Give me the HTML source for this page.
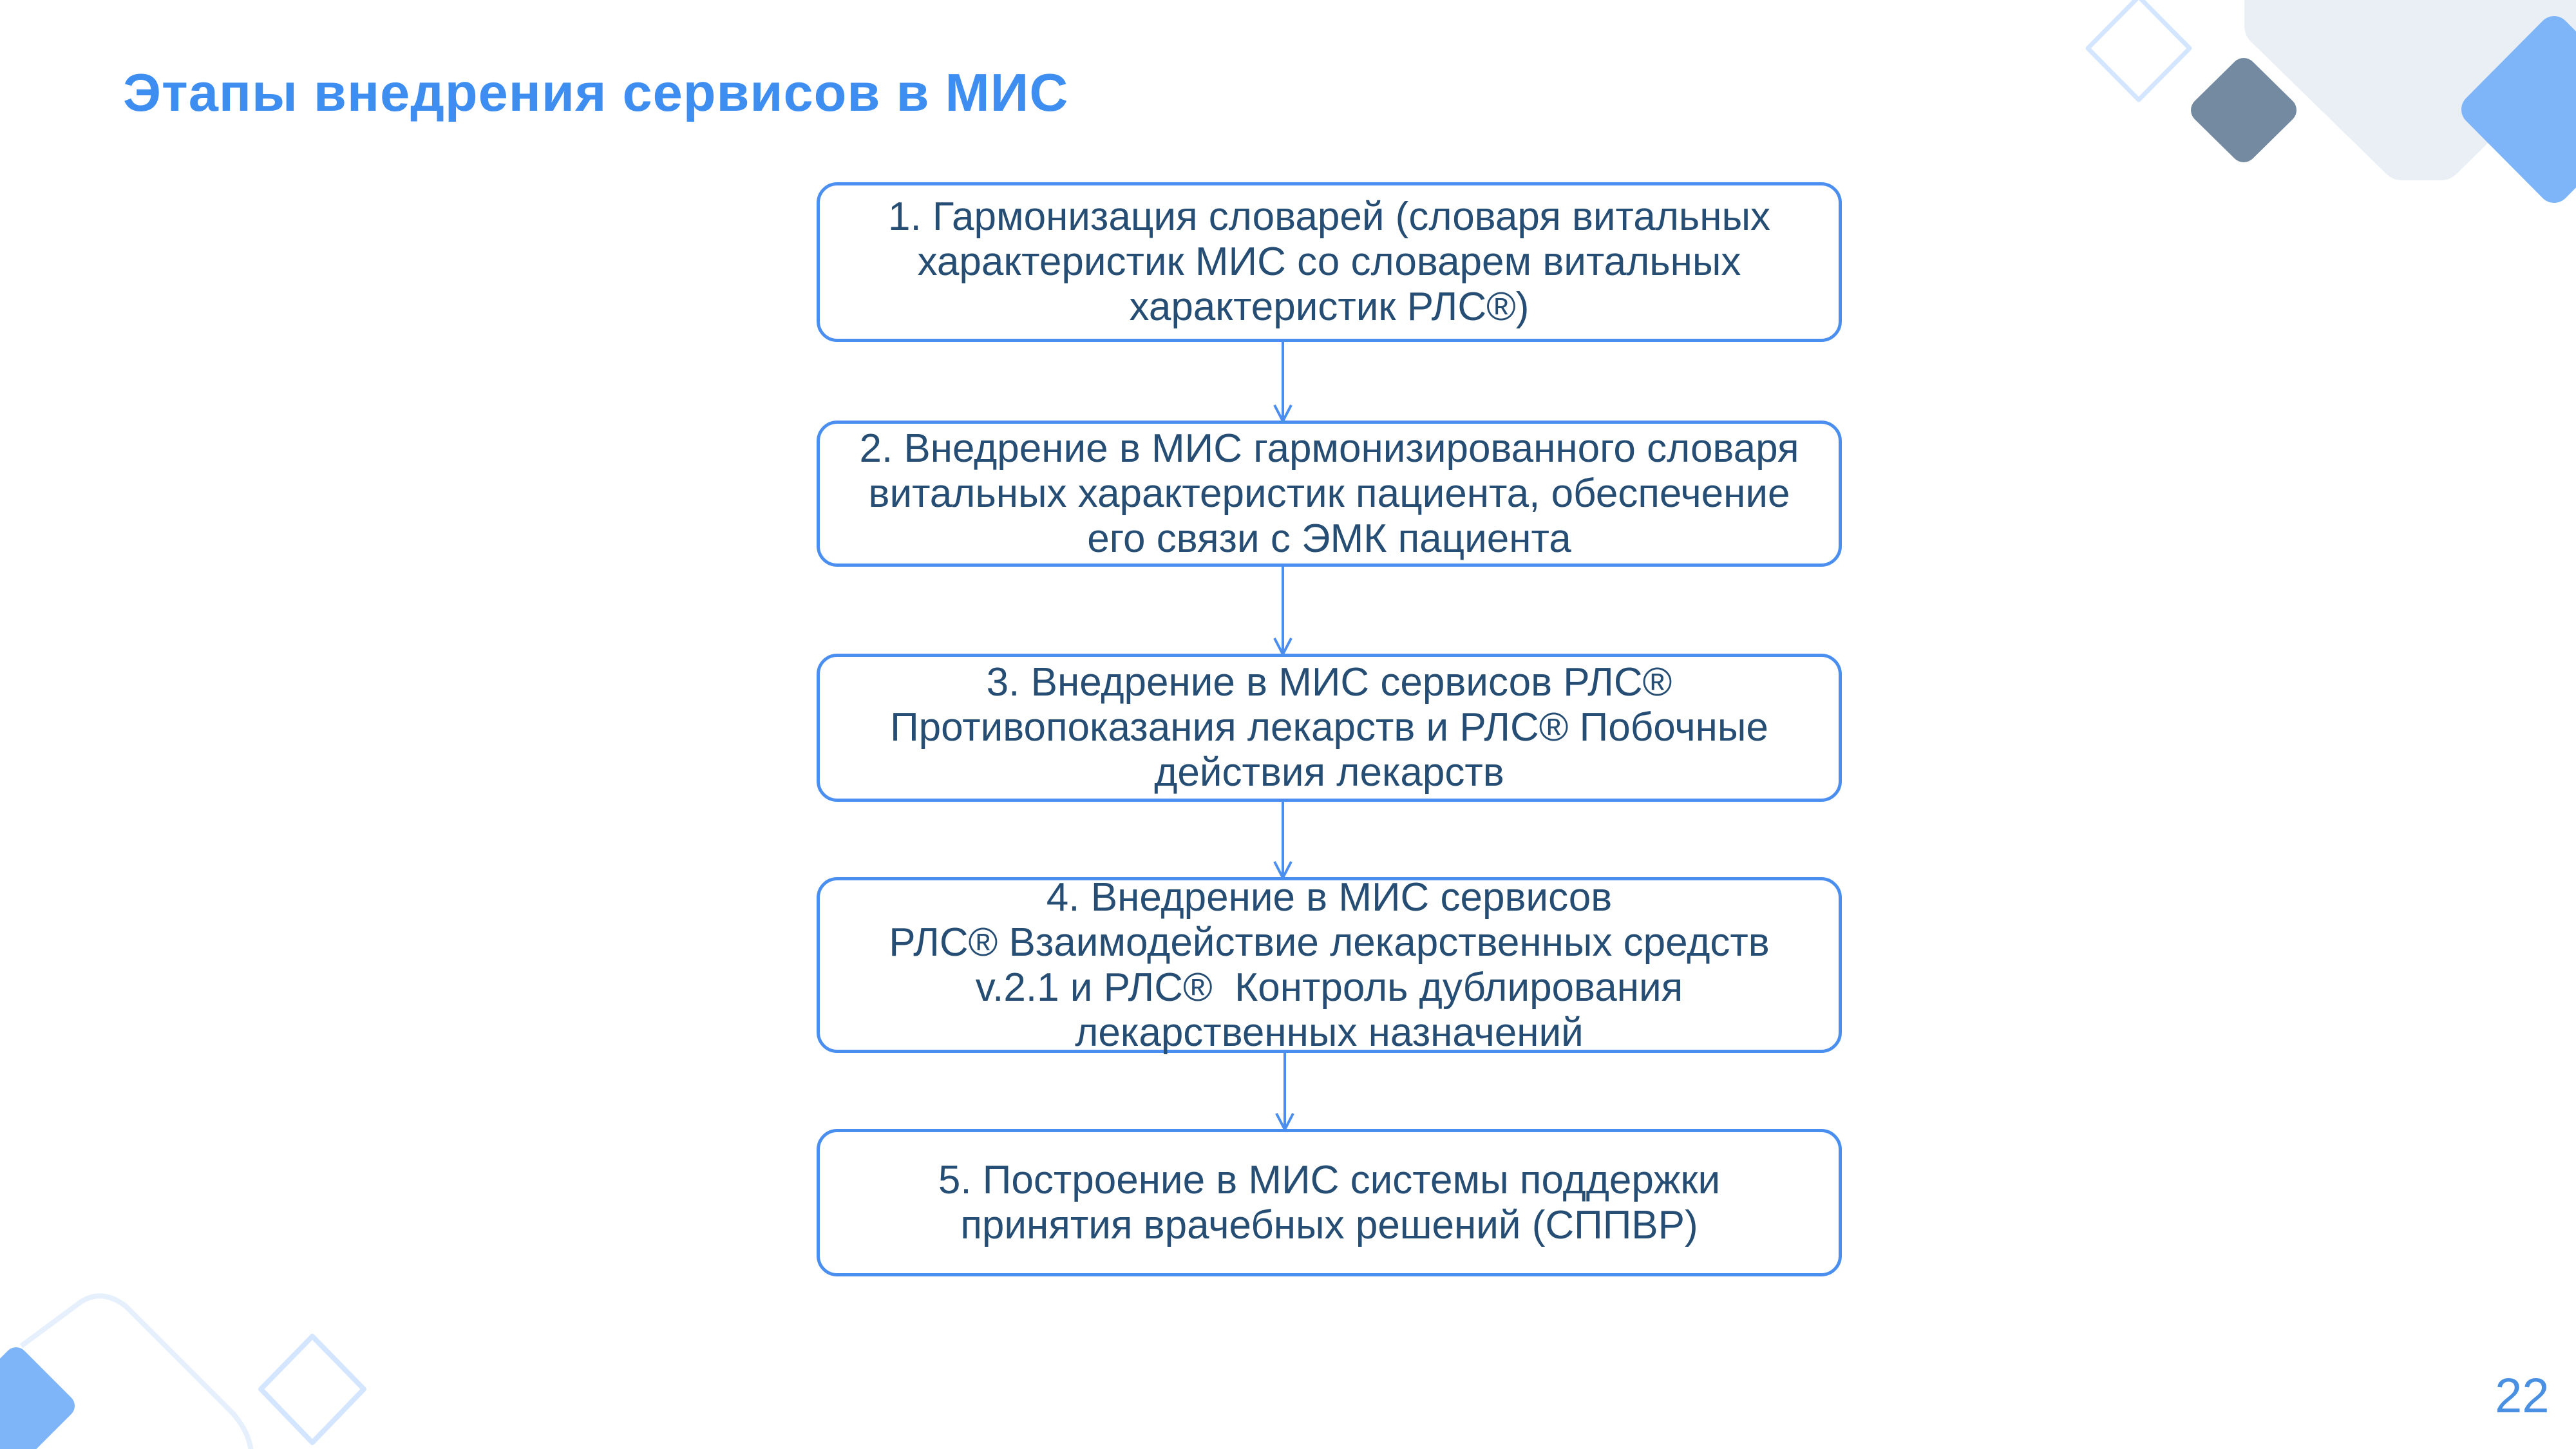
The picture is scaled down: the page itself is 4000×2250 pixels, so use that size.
<!DOCTYPE html>
<html><head><meta charset="utf-8"><style>
html,body{margin:0;padding:0;}
body{width:4000px;height:2250px;position:relative;overflow:hidden;background:#fff;font-family:"Liberation Sans","Noto Sans CJK SC",sans-serif;}
.title{position:absolute;left:191px;top:96px;font-size:83px;font-weight:bold;color:#3d8ef0;white-space:nowrap;letter-spacing:1px;}
.box{position:absolute;left:1268px;width:1592px;border:5px solid #4a8ff0;border-radius:32px;box-sizing:border-box;display:flex;align-items:center;justify-content:center;text-align:center;color:#264d73;font-size:62px;line-height:70px;white-space:nowrap;}
.num{position:absolute;left:3874px;top:2124px;font-size:76px;color:#4a90e2;}
svg{position:absolute;left:0;top:0;}
</style></head><body>
<svg width="4000" height="2250" viewBox="0 0 4000 2250">
  <path d="M3520 -60 L3520 40 L3730 245 L3790 245 L4060 -20 L4060 -60 Z" fill="#e9eff5" stroke="#e9eff5" stroke-width="70" stroke-linejoin="round"/>
  <polygon points="3321,-5 3400,75 3321,155 3242,75" fill="none" stroke="#d4e6ff" stroke-width="7" stroke-linejoin="round"/>
  <polygon points="3484,110 3546,171 3484,232 3422,171" fill="#748aa1" stroke="#748aa1" stroke-width="40" stroke-linejoin="round"/>
  <polygon points="3966,50 4085,170 3966,290 3847,170" fill="#7eb5f8" stroke="#7eb5f8" stroke-width="50" stroke-linejoin="round"/>
  <path d="M33 2090 L125 2022 Q158 2000 195 2028 L362 2195 Q390 2228 390 2260" fill="none" stroke="#e6f0fd" stroke-width="8"/>
  <polygon points="485,2075 565,2157 485,2240 405,2157" fill="none" stroke="#d4e6ff" stroke-width="8" stroke-linejoin="round"/>
  <polygon points="25,2110 98,2183 25,2256 -48,2183" fill="#7eb5f8" stroke="#7eb5f8" stroke-width="36" stroke-linejoin="round"/>
  <g stroke="#4a8ff0" stroke-width="4" fill="none">
    <line x1="1992" y1="531" x2="1992" y2="652"/><polyline points="1979,629 1992,654 2005,629"/>
    <line x1="1992" y1="880" x2="1992" y2="1014"/><polyline points="1979,991 1992,1016 2005,991"/>
    <line x1="1992" y1="1245" x2="1992" y2="1361"/><polyline points="1979,1338 1992,1363 2005,1338"/>
    <line x1="1995" y1="1635" x2="1995" y2="1752"/><polyline points="1982,1729 1995,1754 2008,1729"/>
  </g>
</svg>
<div class="title">Этапы внедрения сервисов в МИС</div>
<div class="box" style="top:283px;height:248px;">1. Гармонизация словарей (словаря витальных<br>характеристик МИС со словарем витальных<br>характеристик РЛС®)</div>
<div class="box" style="top:653px;height:227px;">2. Внедрение в МИС гармонизированного словаря<br>витальных характеристик пациента, обеспечение<br>его связи с ЭМК пациента</div>
<div class="box" style="top:1015px;height:230px;">3. Внедрение в МИС сервисов РЛС®<br>Противопоказания лекарств и РЛС® Побочные<br>действия лекарств</div>
<div class="box" style="top:1362px;height:273px;">4. Внедрение в МИС сервисов<br>РЛС® Взаимодействие лекарственных средств<br>v.2.1 и РЛС®&nbsp; Контроль дублирования<br>лекарственных назначений</div>
<div class="box" style="top:1753px;height:229px;">5. Построение в МИС системы поддержки<br>принятия врачебных решений (СППВР)</div>
<div class="num">22</div>
</body></html>
